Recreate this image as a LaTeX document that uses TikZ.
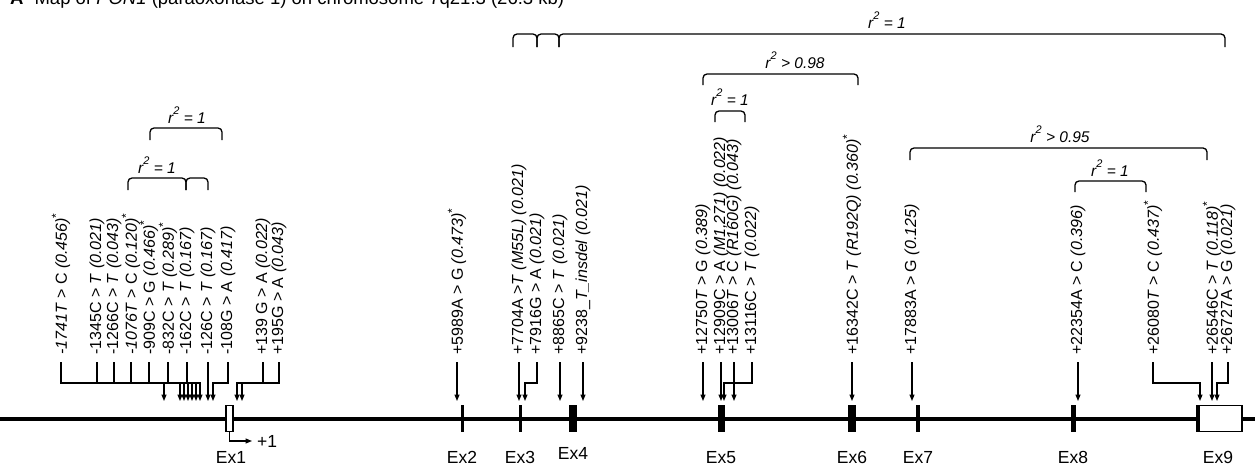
\documentclass[tikz,border=0pt]{standalone}
\usepackage{fontspec}
\setmainfont{Liberation Sans}
\usetikzlibrary{arrows.meta}
\newcommand\tI{\textit{T}}
\newcommand\fr[1]{\textit{(#1)}}
\newcommand\sta{\raisebox{0.42em}{\fontsize{12}{12}\selectfont *}}
\newcommand\rsq{\textit{r}\raisebox{0.55em}{\fontsize{11}{11}\selectfont\itshape 2}}
\begin{document}
\begin{tikzpicture}[x=1pt,y=-1pt,
  lab/.style={rotate=90,anchor=west,inner sep=0pt,font=\fontsize{16}{17}\selectfont},
  exlab/.style={font=\fontsize{17.5}{18}\selectfont,inner sep=0pt},
  con/.style={line width=1.2pt},
  arr/.style={con,-{Triangle[length=6.5pt,width=5pt]}},
  brk/.style={line width=1.3pt,rounded corners=4pt},
  rlab/.style={font=\fontsize{15.5}{16}\selectfont\itshape,inner sep=0pt,anchor=base},
  exon/.style={fill=black,draw=none,inner sep=0pt,minimum height=27pt},
  exbox/.style={draw=black,fill=white,line width=1.3pt,inner sep=0pt,minimum height=26pt},
  ]
\useasboundingbox (0,0) rectangle (1255,466);
\clip (0,0) rectangle (1255,466);
% title (cut off at top)
\node[anchor=base west,font=\fontsize{18.5}{20}\selectfont,inner sep=0pt] (title) at (10,4)
  {\textbf{A}\hspace{11pt}Map of \textit{PON1} (paraoxonase 1) on chromosome 7q21.3 (26.3 kb)};
% coordinates
\coordinate (tipy) at (0,401);
\coordinate (bary) at (0,383);
% main line
\draw[line width=3.5pt] (0,419) -- (1255,419);
% exons
\node[exbox,minimum width=7pt] (ex1) at (229.5,418.5) {};
\node[exon,minimum width=3pt] (ex2) at (462,418.5) {};
\node[exon,minimum width=3pt] (ex3) at (520.5,418.5) {};
\node[exon,minimum width=8pt] (ex4) at (573,418.5) {};
\node[exon,minimum width=7pt] (ex5) at (721.5,418.5) {};
\node[exon,minimum width=8pt] (ex6) at (852,418.5) {};
\node[exon,minimum width=4pt] (ex7) at (918,418.5) {};
\node[exon,minimum width=5pt] (ex8) at (1073.5,418.5) {};
\node[exbox,minimum width=43pt] (ex9) at (1220.5,418.5) {};
\node[exon,minimum width=4pt] (ex9b) at (1198,418.5) {};
% exon labels
\node[exlab] (l1) at (231,457) {Ex1};
\node[exlab] (l2) at (462,457) {Ex2};
\node[exlab] (l3) at (520,457) {Ex3};
\node[exlab] (l4) at (573,453) {Ex4};
\node[exlab] (l5) at (721,458) {Ex5};
\node[exlab] (l6) at (852,457) {Ex6};
\node[exlab] (l7) at (918,457) {Ex7};
\node[exlab] (l8) at (1073,457) {Ex8};
\node[exlab] (l9) at (1218,457) {Ex9};
% +1 transcription start
\node[exlab,anchor=west] (p1) at (257,441) {+1};
\draw[arr] (ex1.south) |- ([xshift=-5pt]p1.west);
% variant labels
\node[lab] (v1) at (61,355) {\textit{-1741T} > C \fr{0.456}\sta};
\node[lab] (v2) at (97,355) {-1345C > \tI{} \fr{0.021}};
\node[lab] (v3) at (114,355) {-1266C > \tI{} \fr{0.043}};
\node[lab] (v4) at (131,355) {\textit{-1076T} > C \fr{0.120}\sta};
\node[lab] (v5) at (149,355) {-909C > G \fr{0.466}\sta};
\node[lab] (v6) at (168,355) {-832C > \tI{} \fr{0.289}\sta};
\node[lab] (v7) at (187,355) {-162C > \tI{} \fr{0.167}};
\node[lab] (v8) at (208,355) {-126C > \tI{} \fr{0.167}};
\node[lab] (v9) at (228,355) {-108G > A \fr{0.417}};
\node[lab] (v10) at (263,355) {+139 G > A \fr{0.022}};
\node[lab] (v11) at (279,355) {+195G > A \fr{0.043}};
\node[lab] (v12) at (457,355) {+5989A > G \fr{0.473}\sta};
\node[lab] (v13) at (519,355) {+7704A >\tI{} \fr{M55L} \fr{0.021}};
\node[lab] (v14) at (537,355) {+7916G > A \fr{0.021}};
\node[lab] (v15) at (560,355) {+8865C > \tI{} \fr{0.021}};
\node[lab] (v16) at (583,355) {+9238\_\textit{T\_insdel} \fr{0.021}};
\node[lab] (v17) at (703,355) {+12750\tI{} > G \fr{0.389}};
\node[lab] (v18) at (721,355) {+12909C > A \fr{M1,271} \fr{0.022}};
\node[lab] (v19) at (734,355) {+13006\tI{} > C \fr{R160G} \fr{0.043}};
\node[lab] (v20) at (752,355) {+13116C > \tI{} \fr{0.022}};
\node[lab] (v21) at (852,355) {+16342C > \tI{} \fr{R192Q} \fr{0.360}\sta};
\node[lab] (v22) at (912,355) {+17883A > G \fr{0.125}};
\node[lab] (v23) at (1078,355) {+22354A > C \fr{0.396}};
\node[lab] (v24) at (1153,355) {+26080\tI{} > C \fr{0.437}\sta};
\node[lab] (v25) at (1212,355) {+26546C > \tI{} \fr{0.118}\sta};
\node[lab] (v26) at (1228,355) {+26727A > G \fr{0.021}};
% arrow tip coordinates for bent connectors
\coordinate (a1) at (164,401);
\coordinate (a2) at (180,401);
\coordinate (a3) at (184,401);
\coordinate (a4) at (188,401);
\coordinate (a5) at (192,401);
\coordinate (a6) at (196,401);
\coordinate (a7) at (200,401);
\coordinate (a9) at (213,401);
\coordinate (a10) at (237,401);
\coordinate (a11) at (242,401);
\coordinate (a14) at (525,401);
\coordinate (a20) at (724,401);
\coordinate (a24) at (1200,401);
\coordinate (a26) at (1217,401);
% bent connectors
\foreach \v/\a in {v1/a1,v2/a2,v3/a3,v4/a4,v5/a5,v6/a6,v7/a7,v9/a9,v10/a10,v11/a11,v14/a14,v20/a20,v24/a24,v26/a26}
  \draw[arr] ([yshift=-7pt]\v.west) -- (\v.west |- bary) -| (\a);
% straight connectors
\foreach \v in {v8,v12,v13,v15,v16,v17,v18,v19,v21,v22,v23,v25}
  \draw[arr] ([yshift=-7pt]\v.west) -- (\v.west |- tipy);
% LD brackets
\draw[brk] (150,140) -- (150,128) -- (222,128) -- (222,140);
\node[rlab] (r1) at (187,123) {\rsq{} = 1};
\draw[brk] (128,190) -- (128,178) -- (186,178) -- (186,190);
\draw[brk] (186,190) -- (186,178) -- (208,178) -- (208,190);
\node[rlab] (r2) at (157,173) {\rsq{} = 1};
\draw[brk] (513,47) -- (513,34) -- (537,34) -- (537,47);
\draw[brk] (537,47) -- (537,34) -- (559,34) -- (559,47);
\draw[brk] (559,47) -- (559,34) -- (1225,34) -- (1225,47);
\node[rlab] (r3) at (887,28) {\rsq{} = 1};
\draw[brk] (703,85) -- (703,74) -- (858,74) -- (858,85);
\node[rlab] (r4) at (795,68) {\rsq{} > 0.98};
\draw[brk] (715,122) -- (715,111) -- (745,111) -- (745,122);
\node[rlab] (r5) at (730,105) {\rsq{} = 1};
\draw[brk] (910,160) -- (910,148) -- (1207,148) -- (1207,160);
\node[rlab] (r6) at (1060,142) {\rsq{} > 0.95};
\draw[brk] (1075,192) -- (1075,181) -- (1146,181) -- (1146,192);
\node[rlab] (r7) at (1110,176) {\rsq{} = 1};
\end{tikzpicture}
\end{document}
